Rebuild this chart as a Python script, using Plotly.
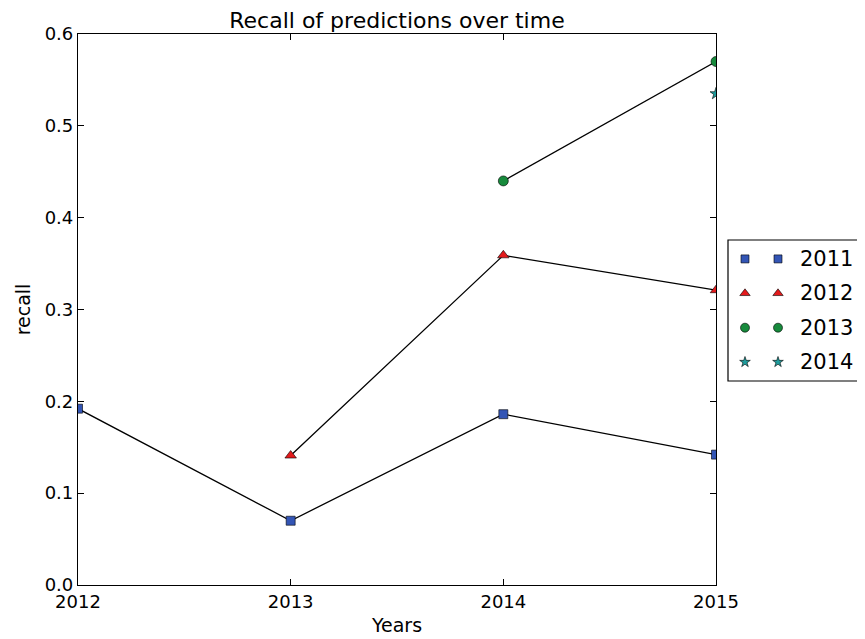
import plotly.graph_objects as go

years = [2012, 2013, 2014, 2015]
series_names = ["2011", "2012", "2013", "2014"]
recall_2011 = [0.192, 0.070, 0.186, 0.142]
recall_2012 = [None, 0.141, 0.359, 0.321]
recall_2013 = [None, None, 0.440, 0.570]
recall_2014 = [None, None, None, 0.535]
all_values = [recall_2011, recall_2012, recall_2013, recall_2014]

colors = ["#3355b5", "#e31a1c", "#178a3c", "#1f9c9c"]
symbols = ["square", "triangle-up", "circle", "star"]
sizes = [9, 10, 10, 9]
leg_sizes = [8, 9, 9, 8]

FONT = "DejaVu Sans, Verdana, sans-serif"
OFF = 8  # page body offset
fig = go.Figure()

for name, vals, c, s, sz in zip(series_names, all_values, colors, symbols, sizes):
    xs = [x for x, v in zip(years, vals) if v is not None]
    ys = [v for v in vals if v is not None]
    fig.add_trace(go.Scatter(
        x=xs, y=ys, mode="lines+markers", name=name, showlegend=False,
        line=dict(color="black", width=1.3),
        marker=dict(color=c, symbol=s, size=sz, line=dict(color="black", width=0.6)),
        cliponaxis=True,
    ))

W, H = 865 - OFF, 639 - OFF
L, T, B = 78 - OFF, 34 - OFF, 54
PW = W - L  # paper width (r=0)
PH = H - T - B
main_dom = 638 / PW
lx0 = (728 - 78) / PW
ly0 = (585 - 381) / PH
ly1 = (585 - 240) / PH

# custom legend (two markers per entry, matplotlib style) on an auxiliary axis
leg_y = [3, 2, 1, 0]
annotations = []
for name, c, s, sz, ly in zip(series_names, colors, symbols, leg_sizes, leg_y):
    fig.add_trace(go.Scatter(
        x=[0.124, 0.365], y=[ly, ly], mode="markers", xaxis="x2", yaxis="y2",
        showlegend=False, hoverinfo="skip",
        marker=dict(color=c, symbol=s, size=sz, line=dict(color="black", width=0.6)),
    ))
    annotations.append(dict(x=0.51, y=ly, xref="x2", yref="y2", text=name, showarrow=False,
                            xanchor="left", yanchor="middle",
                            font=dict(family=FONT, size=21, color="black")))

fig.update_layout(
    width=W, height=H, autosize=False,
    margin=dict(l=L, r=0, t=T, b=B, autoexpand=False),
    paper_bgcolor="white", plot_bgcolor="white",
    font=dict(family=FONT, color="black", size=16),
    title=dict(text="Recall of predictions over time", x=(78 + 319 - OFF) / W, xanchor="center",
               y=1 - (20 - OFF) / H, yanchor="middle", font=dict(size=22)),
    xaxis=dict(domain=[0, main_dom], range=[2012, 2015], dtick=1, tick0=2012,
               showgrid=False, zeroline=False, showline=True, linecolor="black", linewidth=1.2,
               mirror="ticks", ticks="inside", ticklen=6, tickcolor="black", automargin=False,
               title=dict(text="Years", standoff=7, font=dict(size=19)), tickfont=dict(size=18)),
    yaxis=dict(range=[0, 0.6], dtick=0.1, tickformat=".1f", automargin=False,
               showgrid=False, zeroline=False, showline=True, linecolor="black", linewidth=1.2,
               mirror="ticks", ticks="inside", ticklen=6, tickcolor="black",
               title=dict(text="recall", standoff=9, font=dict(size=19)), tickfont=dict(size=18)),
    xaxis2=dict(domain=[lx0, 1.0], range=[0, 1], visible=False, anchor="y2", fixedrange=True),
    yaxis2=dict(domain=[ly0, ly1], range=[-0.55, 3.55],
                visible=False, anchor="x2", fixedrange=True),
    annotations=annotations,
    shapes=[dict(type="rect", xref="paper", yref="paper",
                 x0=lx0, x1=1.02, y0=ly0, y1=ly1,
                 line=dict(color="black", width=1.2), fillcolor="rgba(0,0,0,0)")],
)

fig.write_html("out.html")
